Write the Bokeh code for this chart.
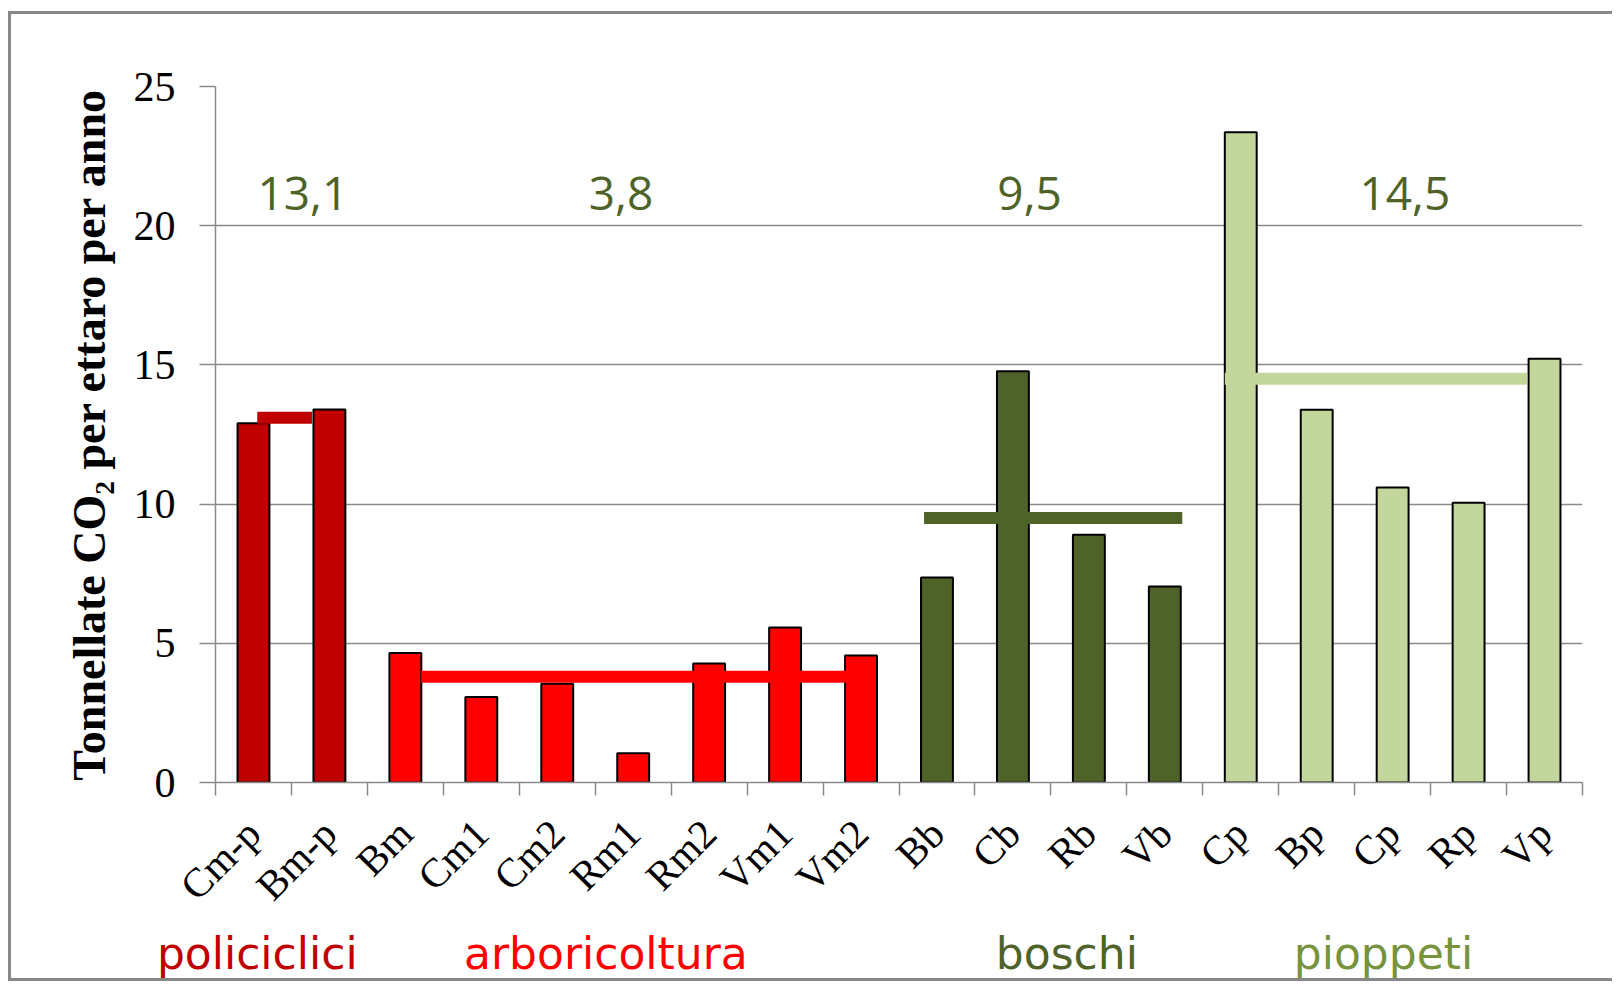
import math
from bokeh.plotting import figure
from bokeh.models import Range1d, FixedTicker, ColumnDataSource
from bokeh.core.properties import value
from bokeh.embed import file_html
from bokeh.resources import INLINE

# ---------------- data ----------------
categories = ["Cm-p", "Bm-p", "Bm", "Cm1", "Cm2", "Rm1", "Rm2", "Vm1", "Vm2",
              "Bb", "Cb", "Rb", "Vb", "Cp", "Bp", "Cp", "Rp", "Vp"]
values = [12.9, 13.4, 4.65, 3.07, 3.55, 1.05, 4.27, 5.57, 4.56,
          7.36, 14.77, 8.9, 7.04, 23.36, 13.39, 10.6, 10.05, 15.22]
group_of = [0, 0, 1, 1, 1, 1, 1, 1, 1, 2, 2, 2, 2, 3, 3, 3, 3, 3]

groups = ["policiclici", "arboricoltura", "boschi", "pioppeti"]
group_means = [13.1, 3.8, 9.5, 14.5]
group_mean_labels = ["13,1", "3,8", "9,5", "14,5"]
# horizontal extent of each mean line, in category units
mean_line_start = [0.55, 2.71, 9.33, 13.29]
mean_line_end = [1.27, 8.33, 12.73, 17.27]

y_ticks = [0, 5, 10, 15, 20, 25]
y_max = 25

# ---------------- styles / layout ----------------
bar_colors = ["#C00000", "#FF0000", "#4F6228", "#C3D69B"]
group_text_colors = ["#C00000", "#FF0000", "#4F6228", "#77933C"]
mean_text_color = "#4F6228"
grid_gray = "#8a8a8a"
border_css = "3px solid #888888"
mean_label_x = [1.15, 5.34, 10.72, 15.66]
mean_label_y = 21.17
group_label_x = [0.55, 5.14, 11.21, 15.38]
group_label_y = -6.14

W = 1604
left, right, top, bottom = 204, 33, 72, 148
frame_h = 696
H1 = top + frame_h + bottom
H2 = 970 - H1
n = len(categories)
px_per_unit_y = frame_h / y_max
px_per_cat = (W - left - right) / n

centers = [i + 0.5 for i in range(n)]
boundaries = list(range(n + 1))

# ---------------- main chart ----------------
p = figure(width=W, height=H1, output_backend="svg", toolbar_location=None,
           x_range=Range1d(0, n), y_range=Range1d(0, y_max),
           min_border_left=left, min_border_right=right, min_border_top=top,
           min_border_bottom=bottom, outline_line_color=None,
           background_fill_color="white", border_fill_color="white")
p.styles = {"border-top": border_css, "border-left": border_css,
            "margin-top": "11px", "margin-left": "8px"}

src = ColumnDataSource(dict(x=centers, top=values,
                            color=[bar_colors[g] for g in group_of]))
p.vbar(x="x", top="top", width=0.42, bottom=0, source=src,
       fill_color="color", line_color="black", line_width=2)

p.segment(x0=mean_line_start, x1=mean_line_end, y0=group_means, y1=group_means,
          line_color=bar_colors, line_width=12)

p.text(x=mean_label_x, y=[mean_label_y] * 4, text=group_mean_labels,
       text_font=value("Open Sans"), text_font_size="46px",
       text_color=mean_text_color, text_align="center",
       text_baseline="alphabetic")

p.xgrid.grid_line_color = None
p.ygrid.grid_line_color = grid_gray
p.ygrid.grid_line_width = 1.5

ya = p.yaxis[0]
ya.ticker = FixedTicker(ticks=y_ticks)
ya.axis_line_color = grid_gray
ya.axis_line_width = 1.5
ya.major_tick_line_color = grid_gray
ya.major_tick_line_width = 1.5
ya.major_tick_out = 16
ya.major_tick_in = 0
ya.minor_tick_line_color = None
ya.major_label_text_font = "Liberation Serif"
ya.major_label_text_font_size = "42px"
ya.major_label_text_color = "black"
ya.major_label_standoff = 24
ya.axis_label = "Tonnellate CO\u2082 per ettaro per anno"
ya.axis_label_text_font = "Liberation Serif"
ya.axis_label_text_font_size = "46px"
ya.axis_label_text_font_style = "bold"
ya.axis_label_text_color = "black"
ya.axis_label_standoff = 16

xa = p.xaxis[0]
xa.ticker = FixedTicker(ticks=centers, minor_ticks=boundaries)
xa.major_label_overrides = {c: lab for c, lab in zip(centers, categories)}
xa.axis_line_color = grid_gray
xa.axis_line_width = 1.5
xa.major_tick_line_color = None
xa.major_tick_out = 0
xa.major_tick_in = 0
xa.minor_tick_line_color = grid_gray
xa.minor_tick_line_width = 1.5
xa.minor_tick_out = 13
xa.minor_tick_in = 0
xa.major_label_orientation = math.pi / 4
xa.major_label_text_font = "Liberation Serif"
xa.major_label_text_font_size = "41px"
xa.major_label_text_color = "black"
xa.major_label_standoff = 31

# ---------------- strip with the group names (separate root) ----------------
y2_top = -(bottom - 3) / px_per_unit_y
y2_bot = y2_top - H2 / px_per_unit_y
p2 = figure(width=W, height=H2, output_backend="svg", toolbar_location=None,
            x_range=Range1d(-left / px_per_cat, (W - left) / px_per_cat),
            y_range=Range1d(y2_bot, y2_top),
            min_border=0, outline_line_color=None,
            background_fill_color="white", border_fill_color="white")
p2.axis.visible = False
p2.grid.visible = False
p2.styles = {"border-left": border_css, "border-bottom": border_css,
             "margin-left": "8px"}
p2.text(x=group_label_x, y=[group_label_y] * 4, text=groups,
        text_font=value("DejaVu Sans"), text_font_size="44px",
        text_color=group_text_colors, text_align="center",
        text_baseline="alphabetic")

open("out.html", "w").write(file_html([p, p2], INLINE))
